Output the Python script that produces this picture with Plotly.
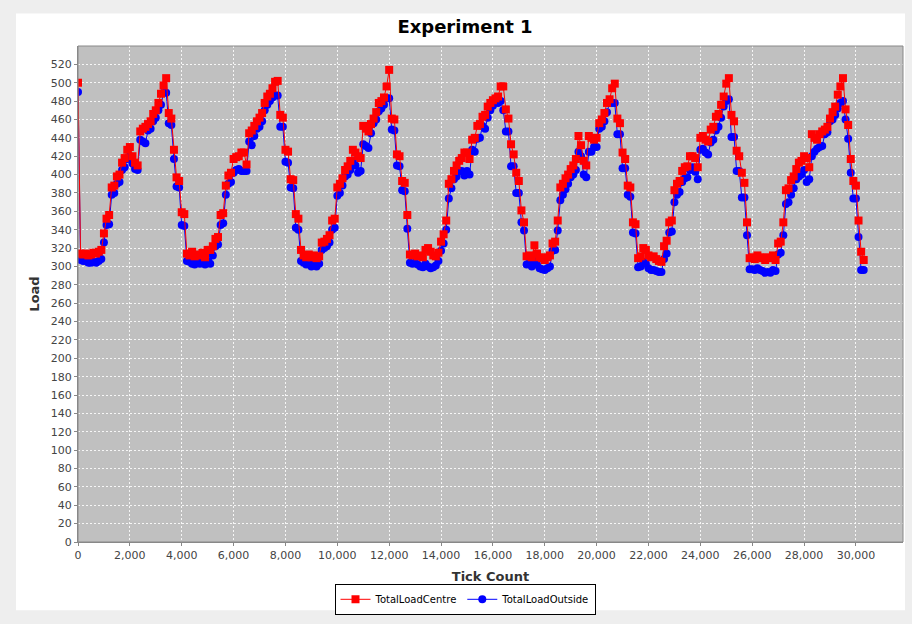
import plotly.graph_objects as go

# Sample times (tick count), every 100 ticks
ticks = list(range(0, 30301, 100))

total_load_centre = [
    500, 314, 313, 314, 312, 313, 315, 314, 316, 318,
    336, 352, 356, 386, 388, 398, 400, 413, 418, 427,
    430, 420, 413, 410, 447, 450, 452, 455, 458, 466,
    470, 478, 488, 497, 505, 467, 461, 427, 397, 393,
    359, 357, 314, 312, 316, 311, 313, 312, 315, 310,
    318, 318, 322, 330, 332, 356, 358, 388, 399, 402,
    417, 419, 420, 424, 424, 411, 445, 448, 453, 458,
    462, 467, 478, 485, 488, 494, 501, 502, 465, 462,
    427, 425, 395, 394, 357, 352, 318, 312, 310, 313,
    310, 312, 309, 311, 326, 327, 330, 334, 350, 352,
    386, 390, 396, 405, 409, 415, 427, 424, 420, 418,
    453, 450, 447, 455, 461, 468, 478, 480, 484, 496,
    514, 461, 460, 422, 420, 393, 391, 356, 313, 312,
    314, 311, 312, 310, 318, 320, 316, 312, 311, 315,
    327, 335, 350, 390, 395, 404, 410, 415, 418, 424,
    424, 417, 438, 440, 453, 455, 463, 465, 474, 478,
    481, 483, 485, 496, 496, 471, 461, 433, 422, 402,
    393, 361, 348, 311, 312, 310, 323, 314, 310, 309,
    307, 310, 312, 325, 327, 350, 386, 390, 396, 400,
    406, 410, 417, 442, 432, 415, 410, 442, 440, 438,
    440, 456, 460, 467, 478, 482, 494, 499, 461, 456,
    424, 417, 388, 386, 348, 346, 309, 311, 320, 318,
    312, 310, 311, 308, 306, 305, 322, 328, 348, 350,
    383, 390, 393, 404, 408, 409, 420, 420, 418, 408,
    440, 442, 438, 436, 449, 452, 463, 466, 476, 485,
    499, 505, 465, 458, 426, 420, 402, 391, 348, 309,
    310, 308, 312, 310, 309, 307, 310, 309, 312, 307,
    325, 327, 348, 383, 385, 394, 398, 406, 413, 415,
    420, 418, 408, 444, 440, 438, 444, 447, 449, 452,
    461, 468, 474, 487, 496, 505, 471, 454, 417, 393,
    388, 350, 316, 307,
]

total_load_outside = [
    490, 307, 306, 306, 304, 304, 305, 304, 306, 308,
    326, 345, 346, 378, 380, 390, 392, 405, 408, 417,
    420, 412, 406, 405, 438, 436, 434, 448, 450, 458,
    462, 470, 476, 489, 489, 456, 454, 417, 387, 386,
    345, 344, 306, 305, 303, 302, 304, 303, 305, 302,
    306, 303, 312, 322, 324, 345, 347, 378, 390, 392,
    402, 405, 406, 404, 404, 404, 436, 432, 442, 450,
    452, 458, 470, 476, 480, 484, 486, 486, 452, 452,
    414, 413, 386, 385, 342, 340, 306, 304, 302, 303,
    300, 302, 300, 303, 318, 320, 322, 326, 340, 342,
    377, 380, 388, 398, 400, 405, 415, 410, 402, 404,
    433, 431, 429, 445, 456, 460, 469, 472, 476, 483,
    483, 449, 448, 410, 409, 383, 382, 341, 304, 303,
    304, 302, 300, 299, 303, 300, 298, 299, 301, 306,
    317, 325, 340, 374, 385, 395, 398, 404, 404, 399,
    404, 400, 427, 425, 439, 440, 453, 450, 462, 470,
    475, 479, 478, 480, 470, 447, 447, 409, 409, 380,
    380, 348, 339, 302, 303, 300, 306, 302, 298, 297,
    296, 298, 300, 317, 318, 339, 372, 378, 384, 390,
    397, 400, 405, 425, 420, 400, 397, 425, 425, 430,
    430, 450, 452, 458, 468, 478, 478, 478, 444, 444,
    407, 407, 378, 376, 337, 336, 299, 300, 305, 303,
    298, 296, 296, 295, 294, 294, 308, 314, 337, 338,
    370, 378, 381, 392, 396, 397, 405, 408, 403, 395,
    427, 428, 424, 422, 435, 438, 448, 452, 462, 474,
    480, 482, 441, 441, 404, 404, 375, 375, 334, 297,
    297, 296, 298, 296, 295, 293, 294, 293, 296, 295,
    313, 315, 334, 368, 370, 378, 385, 395, 398, 400,
    405, 392, 395, 420, 425, 428, 430, 431, 444, 446,
    458, 460, 465, 472, 478, 480, 460, 439, 402, 374,
    374, 332, 296, 296,
]

x_tick_vals = [0, 2000, 4000, 6000, 8000, 10000, 12000, 14000, 16000,
               18000, 20000, 22000, 24000, 26000, 28000, 30000]
x_tick_text = ["0", "2,000", "4,000", "6,000", "8,000", "10,000", "12,000",
               "14,000", "16,000", "18,000", "20,000", "22,000", "24,000",
               "26,000", "28,000", "30,000"]
y_tick_vals = list(range(0, 521, 20))

FONT = "DejaVu Sans"

fig = go.Figure()
fig.add_trace(go.Scatter(
    x=ticks, y=total_load_outside, name="TotalLoadOutside",
    mode="lines+markers",
    line=dict(color="#0000ff", width=1),
    marker=dict(symbol="circle", size=8, color="#0000ff"),
    legendrank=2,
))
fig.add_trace(go.Scatter(
    x=ticks, y=total_load_centre, name="TotalLoadCentre",
    mode="lines+markers",
    line=dict(color="#ff0000", width=1),
    marker=dict(symbol="square", size=8, color="#ff0000"),
    legendrank=1,
))

W, H = 912, 624
L, R, T, B = 78, 903, 46, 548
pw, ph = R - L, B - T

def px(x):
    return (x - L) / pw

def py(y):
    return (B - y) / ph

fig.update_layout(
    width=W, height=H,
    margin=dict(l=L, r=W - R, t=T, b=H - B),
    paper_bgcolor="#eeeeee",
    plot_bgcolor="#c0c0c0",
    font=dict(family=FONT, size=11, color="#444444"),
    showlegend=True,
    legend=dict(
        orientation="h", x=px(465), xanchor="center", y=py(606), yanchor="middle",
        bgcolor="white", bordercolor="black", borderwidth=1,
        font=dict(family=FONT, size=10, color="#000000"),
        itemwidth=30, tracegroupgap=0,
    ),
    xaxis=dict(
        range=[0, 31815], tickvals=x_tick_vals, ticktext=x_tick_text,
        showgrid=True, gridcolor="rgba(255,255,255,0.85)", griddash="2px,2px", gridwidth=1,
        zeroline=False, ticks="outside", ticklen=3, tickcolor="#888888",
        showline=True, linecolor="#888888",
        tickfont=dict(family=FONT, size=11, color="#444444"),
        title=dict(text="<b>Tick Count</b>", font=dict(family=FONT, size=13, color="#333333"), standoff=10),
    ),
    yaxis=dict(
        range=[0, 540], tickvals=y_tick_vals,
        showgrid=True, gridcolor="rgba(255,255,255,0.85)", griddash="2px,2px", gridwidth=1,
        zeroline=False, ticks="outside", ticklen=3, tickcolor="#888888",
        showline=True, linecolor="#888888",
        tickfont=dict(family=FONT, size=11, color="#444444"),
        title=dict(text="<b>Load</b>", font=dict(family=FONT, size=13, color="#333333"), standoff=8),
    ),
    title=dict(
        text="<b>Experiment 1</b>", x=px(465), xref="paper", xanchor="center",
        y=1 - 27 / H, yref="container", yanchor="middle",
        font=dict(family=FONT, size=18, color="#000000"),
    ),
    shapes=[
        dict(type="rect", xref="paper", yref="paper", layer="below",
             x0=px(16), x1=px(905), y0=py(617), y1=py(13),
             fillcolor="white", line=dict(width=0)),
        dict(type="rect", xref="paper", yref="paper", layer="below",
             x0=0, x1=1, y0=0, y1=1,
             fillcolor="#c0c0c0", line=dict(width=0)),
        dict(type="rect", xref="paper", yref="paper", layer="above",
             x0=0, x1=1, y0=0, y1=1,
             fillcolor="rgba(0,0,0,0)", line=dict(color="#888888", width=1)),
    ],
)

fig.write_html("out.html")
